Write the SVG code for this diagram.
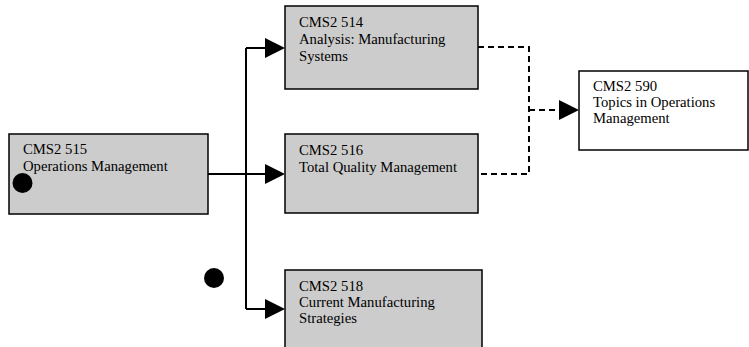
<svg xmlns="http://www.w3.org/2000/svg" width="749" height="347" viewBox="0 0 749 347">
<defs>
<style>
.box{fill:#cccccc;stroke:#000;stroke-width:1.5}
.wbox{fill:#fff;stroke:#000;stroke-width:1.5}
text{font-family:"Liberation Serif","Times New Roman",serif;font-size:14.7px;fill:#000}
.ln{fill:none;stroke:#000;stroke-width:2}
.dash{fill:none;stroke:#000;stroke-width:2;stroke-dasharray:6,4}
</style>
</defs>
<rect width="749" height="347" fill="#fff"/>
<g id="connectors">
<line class="ln" x1="208" y1="174" x2="246" y2="174"/>
<line class="ln" x1="246" y1="48" x2="246" y2="309"/>
<line class="ln" x1="246" y1="48" x2="266" y2="48"/>
<line class="ln" x1="246" y1="174" x2="266" y2="174"/>
<line class="ln" x1="246" y1="309" x2="266" y2="309"/>
<path d="M265,38 L285,48 L265,58 Z"/>
<path d="M265,164 L285,174 L265,184 Z"/>
<path d="M265,299 L285,309 L265,319 Z"/>
<polyline class="dash" points="478,47 529,47 529,174 478,174"/>
<line class="dash" x1="529" y1="110" x2="560" y2="110"/>
<path d="M559,100 L579,110 L559,120 Z"/>
</g>
<g id="n515">
<rect class="box" x="9" y="134" width="199" height="80"/>
<text x="23" y="154">CMS2 515</text>
<text x="23" y="171">Operations Management</text>
<circle cx="22.5" cy="183" r="10"/>
</g>
<g id="n514">
<rect class="box" x="285" y="6" width="193" height="83"/>
<text x="299" y="27">CMS2 514</text>
<text x="299" y="44">Analysis: Manufacturing</text>
<text x="299" y="61">Systems</text>
</g>
<g id="n516">
<rect class="box" x="285" y="134" width="193" height="79"/>
<text x="299" y="155">CMS2 516</text>
<text x="299" y="172">Total Quality Management</text>
</g>
<g id="n518">
<rect class="box" x="285" y="270" width="197" height="90"/>
<text x="299" y="291">CMS2 518</text>
<text x="299" y="307">Current Manufacturing</text>
<text x="299" y="323">Strategies</text>
</g>
<g id="dot2">
<circle cx="214" cy="278" r="10"/>
</g>
<g id="n590">
<rect class="wbox" x="579" y="71" width="169" height="79"/>
<text x="593" y="91">CMS2 590</text>
<text x="593" y="107">Topics in Operations</text>
<text x="593" y="123">Management</text>
</g>
</svg>
